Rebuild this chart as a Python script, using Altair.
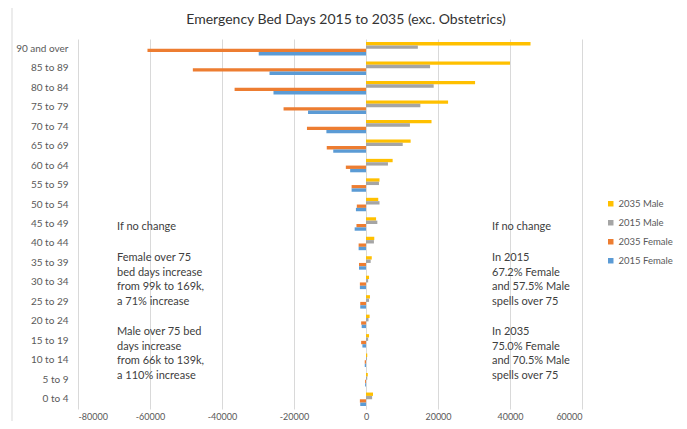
import altair as alt
import pandas as pd

categories = ["90 and over", "85 to 89", "80 to 84", "75 to 79", "70 to 74", "65 to 69",
              "60 to 64", "55 to 59", "50 to 54", "45 to 49", "40 to 44", "35 to 39",
              "30 to 34", "25 to 29", "20 to 24", "15 to 19", "10 to 14", "5 to 9", "0 to 4"]

male_2035 = [45700, 40000, 30300, 22800, 18200, 12400, 7400, 3750, 3400, 2800, 2300, 1600,
             850, 1100, 1000, 850, 350, 500, 1950]
male_2015 = [14400, 17800, 18800, 15100, 12200, 10200, 6100, 3600, 3750, 3150, 2200, 1300,
             600, 850, 700, 600, 250, 350, 1700]
female_2035 = [-60700, -48100, -36500, -22900, -16400, -10900, -5600, -4000, -2550, -2650,
               -2050, -1950, -1700, -1600, -1350, -1350, -350, -250, -1700]
female_2015 = [-29800, -26800, -25700, -16100, -11000, -9100, -4400, -4000, -2800, -3150,
               -2050, -1950, -1700, -1600, -1200, -1000, -350, -250, -1600]

series_names = ["2035 Male", "2015 Male", "2035 Female", "2015 Female"]
series_colors = ["#FFC000", "#A5A5A5", "#ED7D31", "#5B9BD5"]
x_ticks = [-80000, -60000, -40000, -20000, 0, 20000, 40000, 60000]

title_text = "Emergency Bed Days 2015 to 2035 (exc. Obstetrics)"
left_notes = [["If no change"],
              ["Female over 75", "bed days increase", "from 99k to 169k,", "a 71% increase"],
              ["Male over 75 bed", "days increase", "from 66k to 139k,", "a 110% increase"]]
right_notes = [["If no change"],
               ["In 2015", "67.2% Female", "and 57.5% Male", "spells over 75"],
               ["In 2035", "75.0% Female", "and 70.5% Male", "spells over 75"]]

FONT = "Lato"

rows = []
for name, vals in zip(series_names, [male_2035, male_2015, female_2035, female_2015]):
    for c, v in zip(categories, vals):
        rows.append({"Age": c, "Series": name, "Days": v})
df = pd.DataFrame(rows)

bars = alt.Chart(df).mark_bar().encode(
    y=alt.Y("Age:N", sort=categories, title=None,
            scale=alt.Scale(paddingInner=0.31, paddingOuter=0.155),
            axis=alt.Axis(domain=False, ticks=False, grid=False, labelFontSize=10,
                          labelColor="#595959", labelFont=FONT, labelPadding=10)),
    yOffset=alt.YOffset("Series:N", sort=series_names,
                        scale=alt.Scale(domain=series_names, paddingInner=0, paddingOuter=0)),
    x=alt.X("Days:Q", title=None,
            scale=alt.Scale(domain=[-80000, 60000], nice=False, zero=False),
            axis=alt.Axis(values=x_ticks, domain=False, ticks=False, grid=True,
                          gridColor="#D9D9D9", gridWidth=1, labelFontSize=9,
                          labelColor="#595959", labelFont=FONT, labelPadding=3,
                          labelExpr="datum.value + ''")),
    color=alt.Color("Series:N", sort=series_names,
                    scale=alt.Scale(domain=series_names, range=series_colors),
                    legend=alt.Legend(title=None, orient="none", legendX=528, legendY=160,
                                      symbolType="square", symbolSize=30,
                                      symbolStrokeWidth=0, labelFontSize=9.5,
                                      labelColor="#595959", labelFont=FONT,
                                      rowPadding=8, labelOffset=3, padding=0)),
)

note_layers = []
para_y = [188, 219, 293]
for notes, xpx in [(left_notes, 39), (right_notes, 414)]:
    for lines, ypx in zip(notes, para_y):
        note_layers.append(
            alt.Chart(pd.DataFrame({"t": [lines]})).mark_text(
                align="left", baseline="middle", fontSize=11, font=FONT,
                color="#404040", lineHeight=14.5
            ).encode(text="t:N", x=alt.value(xpx), y=alt.value(ypx))
        )

title_layer = alt.Chart(pd.DataFrame({"t": [title_text]})).mark_text(
    align="center", baseline="middle", fontSize=14, font=FONT, color="#333333"
).encode(text="t:N", x=alt.value(268), y=alt.value(-19))

border = alt.Chart(pd.DataFrame({"a": [0]})).mark_rule(color="#D9D9D9").encode(
    x=alt.value(-66), y=alt.value(-31), y2=alt.value(382))

chart = alt.layer(bars, *note_layers, title_layer, border).properties(
    width=504, height=370,
    autosize=alt.AutoSizeParams(type="none"),
    padding={"left": 70, "top": 31, "right": 97, "bottom": 12},
).configure_view(stroke=None)

chart.save("out.html", embed_options={"renderer": "svg", "actions": False})
